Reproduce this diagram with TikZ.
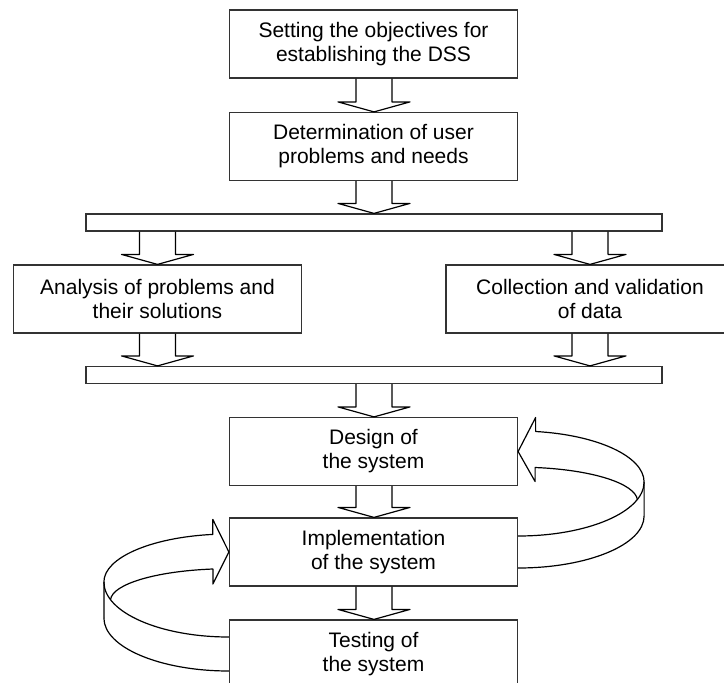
\documentclass[tikz,border=0pt]{standalone}
\usepackage{fontspec}
\setmainfont{Liberation Sans}
\usetikzlibrary{calc}
\usetikzlibrary{positioning}
\tikzstyle{stage} = [draw=black!80, line width=1.2pt, minimum width=288pt, minimum height=68pt, inner sep=0pt, align=center, font=\fontsize{21}{24}\selectfont]
\tikzstyle{bar} = [draw=black!80, line width=1.2pt, minimum width=576pt, minimum height=17pt, inner sep=0pt]
\tikzstyle{ribbon} = [line width=1.2pt, line join=round]

% hollow block arrow: x of the arrow, from node, to node
\newcommand{\flowarrow}[3]{%
  \draw[ribbon] ($(#1,0 |- #2.south)+(-18,0)$) -- ($(#1,0 |- #3.north)+(-18,-10)$)
    -- ($(#1,0 |- #3.north)+(-36,-10)$) -- (#1,0 |- #3.north)
    -- ($(#1,0 |- #3.north)+(36,-10)$) -- ($(#1,0 |- #3.north)+(18,-10)$)
    -- ($(#1,0 |- #2.south)+(18,0)$);
}

\begin{document}
\begin{tikzpicture}[x=1pt,y=-1pt]
\useasboundingbox (0,0) rectangle (724,683);
\clip (0,0) rectangle (724,683);

% Nodes
\node[stage] (obj) at (373.5,44) {Setting the objectives for\\establishing the DSS};
\node[stage] (needs) at (373.5,146.5) {Determination of user\\problems and needs};
\node[bar] (split) at (374,222.5) {};
\node[stage] (anal) at (157.5,299) {Analysis of problems and\\their solutions};
\node[stage] (collect) at (590,299) {Collection and validation\\of data};
\node[bar] (join) at (374,375) {};
\node[stage] (design) at (373.5,451.5) {Design of\\the system};
\node[stage] (impl) at (373.5,552) {Implementation\\of the system};
\node[stage] (test) at (373.5,654) {Testing of\\the system};

% Edges
\flowarrow{374}{obj}{needs}
\flowarrow{374}{needs}{split}
\flowarrow{157.5}{split}{anal}
\flowarrow{590}{split}{collect}
\flowarrow{157.5}{anal}{join}
\flowarrow{590}{collect}{join}
\flowarrow{374}{join}{design}
\flowarrow{374}{design}{impl}
\flowarrow{374}{impl}{test}

% Loop back: implementation -> design
\draw[ribbon] ($(impl.east)+(0,-16)$) arc[start angle=90, end angle=0, x radius=126, y radius=54] coordinate (rtop);
\draw[ribbon] ($(impl.east)+(0,16)$) arc[start angle=90, end angle=0, x radius=126, y radius=52] coordinate (rbot);
\draw[ribbon] (rbot) -- (rtop)
  arc[start angle=0, end angle=-82, x radius=126, y radius=51]
  -- ++(0,-14) -- (design.east) -- ($(design.east)+(17,30)$) -- ++(0,-14)
  arc[start angle=-82, end angle=-2, x radius=119, y radius=34];

% Loop back: testing -> implementation
\draw[ribbon] ($(test.west)+(0,-17)$) arc[start angle=90, end angle=180, x radius=125, y radius=55] coordinate (ltop);
\draw[ribbon] ($(test.west)+(0,17)$) arc[start angle=90, end angle=180, x radius=125, y radius=53] coordinate (lbot);
\draw[ribbon] (lbot) -- (ltop)
  arc[start angle=180, end angle=262.6, x radius=125, y radius=48]
  -- ++(0,-15) -- (impl.west) -- ($(impl.west)+(-16,32)$) -- ++(0,-15)
  arc[start angle=262, end angle=182, x radius=119, y radius=32];

\end{tikzpicture}
\end{document}
